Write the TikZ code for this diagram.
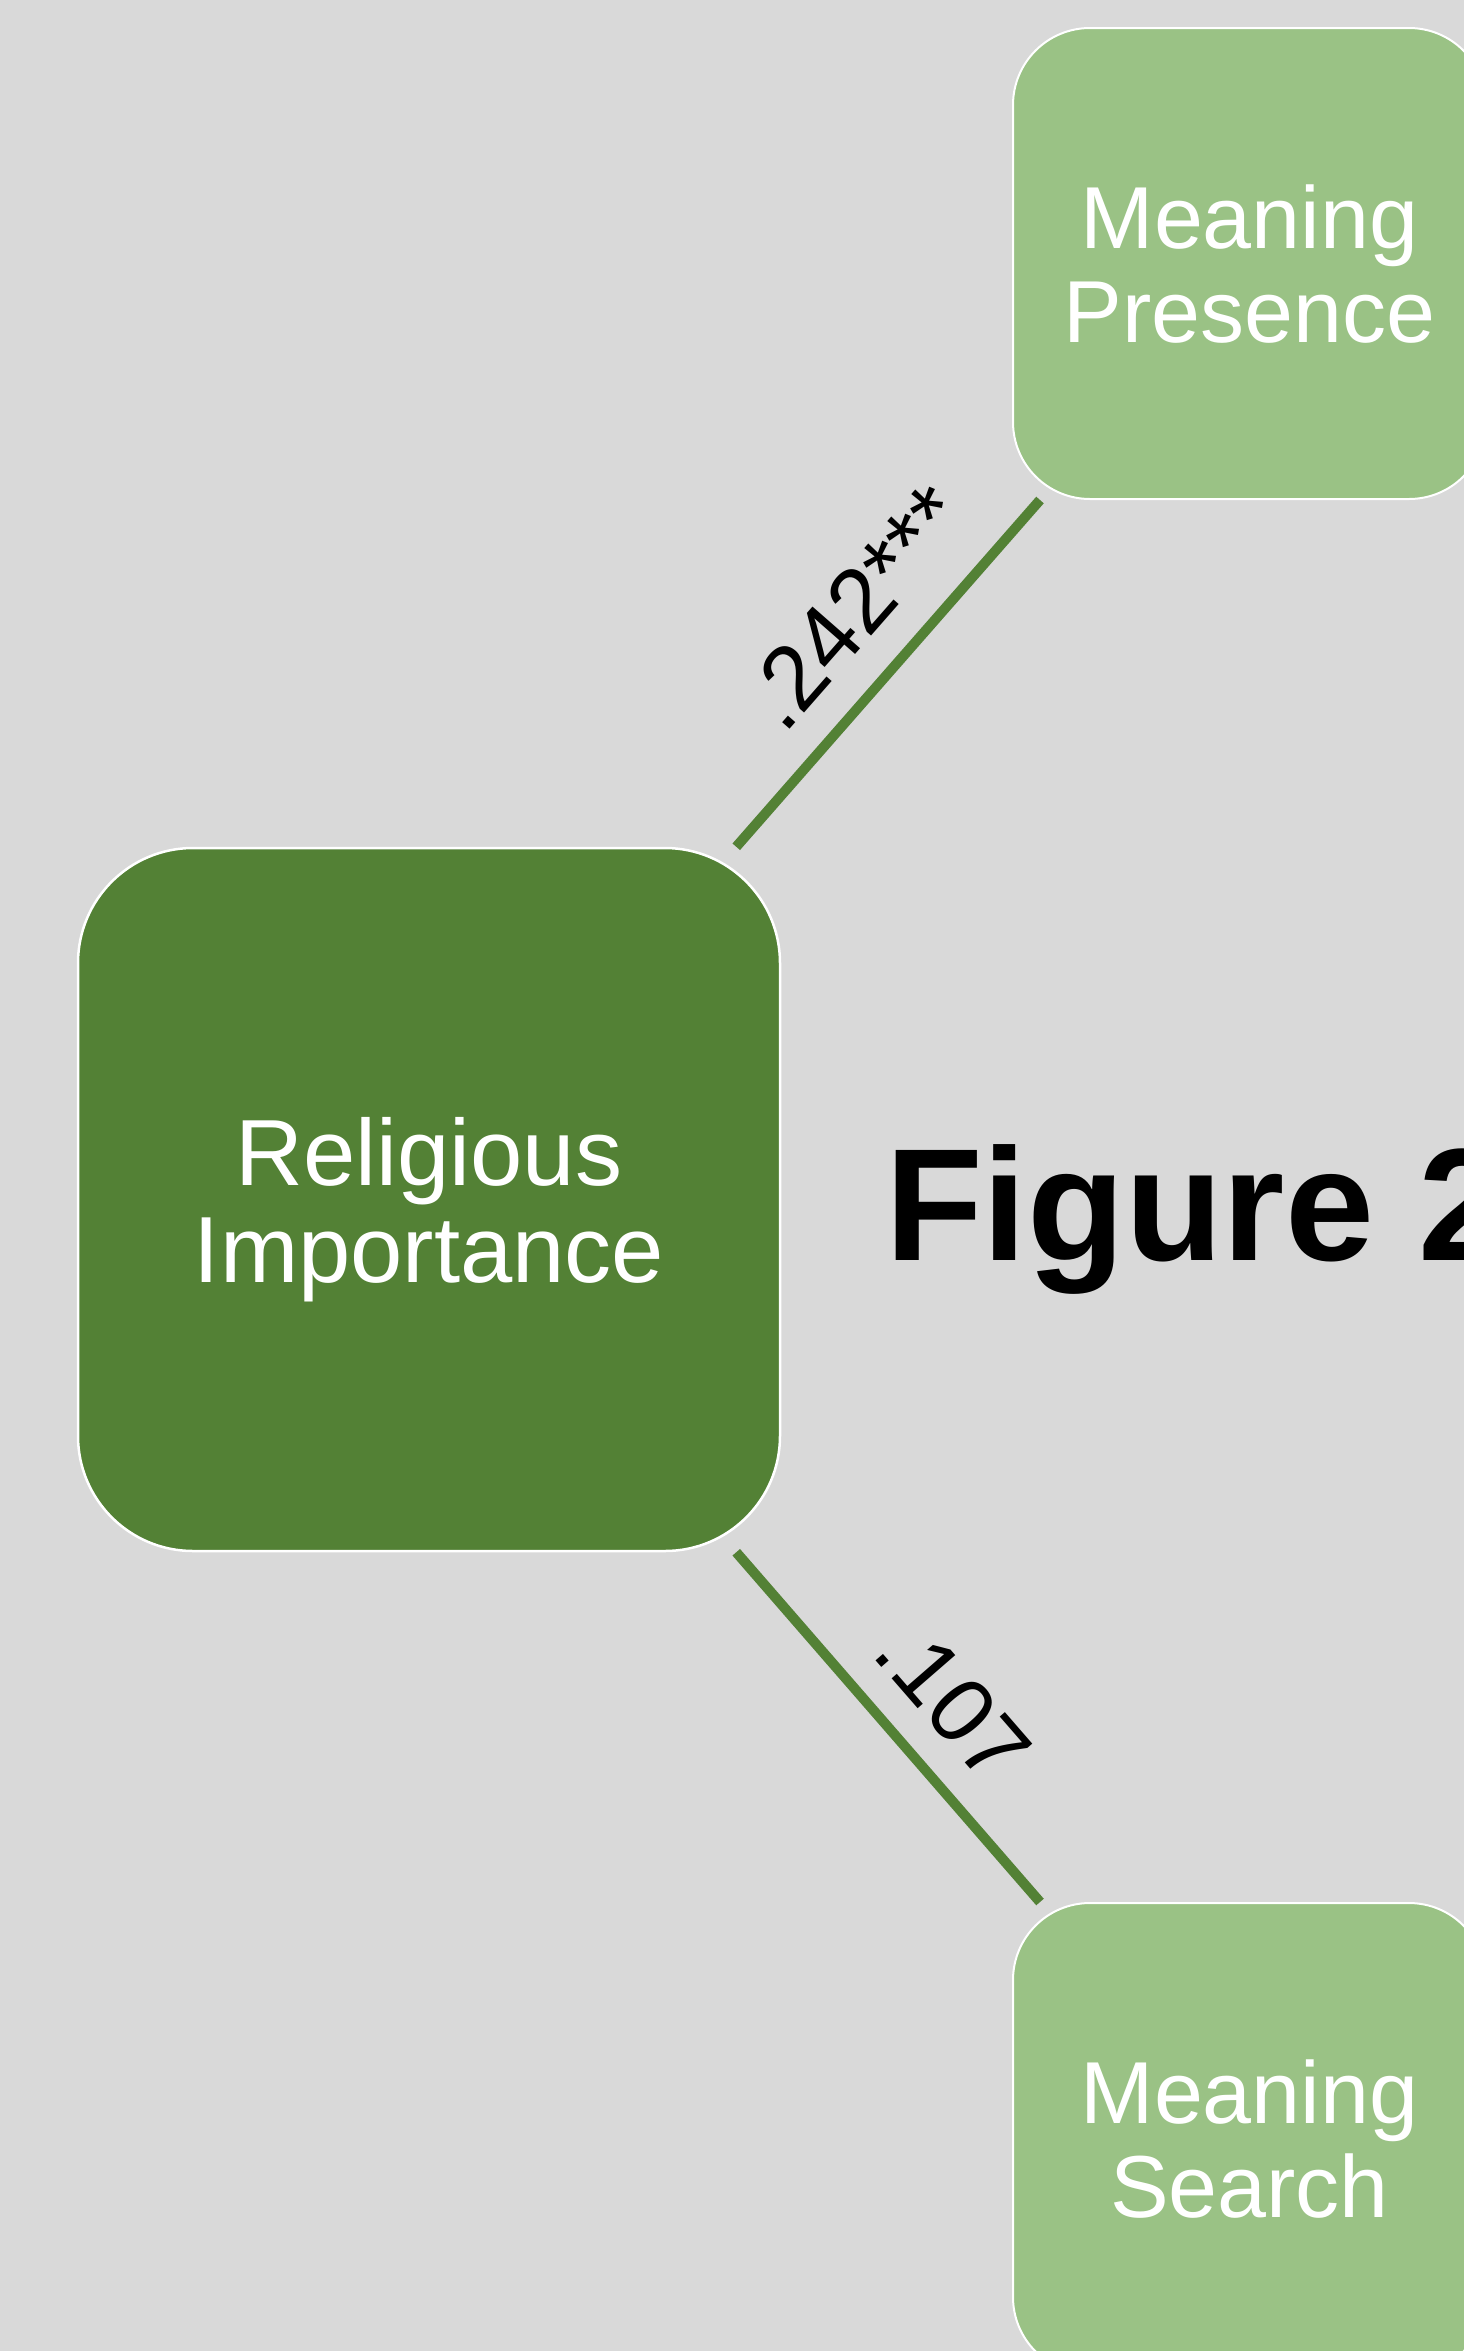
\documentclass[tikz,border=0pt]{standalone}
\usepackage{fontspec}
\setmainfont{Liberation Sans}
\begin{document}
\begin{tikzpicture}[x=1pt,y=-1pt,
  bigbox/.style={rectangle, draw=white, line width=2.5pt, fill=darkgreen,
    minimum width=702pt, minimum height=703pt, rounded corners=115pt,
    text=white, align=center, inner sep=0pt, text depth=0pt,
    font=\fontsize{94}{97}\selectfont},
  smallbox/.style={rectangle, draw=white, line width=2pt, fill=lightgreen,
    minimum width=473pt, minimum height=471pt, rounded corners=77pt,
    text=white, align=center, inner sep=0pt, text depth=0pt,
    font=\fontsize{88}{94}\selectfont},
  conn/.style={draw=darkgreen, line width=10pt, line cap=butt},
  coef/.style={sloped, inner sep=0pt, text=black, font=\fontsize{92}{96}\selectfont},
  titletext/.style={anchor=base west, inner sep=0pt, text=black,
    font=\fontsize{160}{170}\selectfont\bfseries}
]
\definecolor{bggray}{HTML}{D9D9D9}
\definecolor{darkgreen}{HTML}{538135}
\definecolor{lightgreen}{HTML}{9AC285}
\useasboundingbox (0,0) rectangle (1464,2351);
\clip (0,0) rectangle (1464,2351);
\fill[bggray] (0,0) rectangle (1464,2351);

\node[bigbox] (RI) at (429,1199.5) {Religious\\Importance};
\node[smallbox] (MP) at (1249.5,263.5) {Meaning\\Presence};
\node[smallbox] (MS) at (1249.5,2138.5) {Meaning\\Search};

\draw[conn] ([xshift=-45pt]RI.north east) -- node[coef, pos=0.56, above=32pt] {.242***} ([xshift=28pt]MP.south west);
\draw[conn] ([xshift=-45pt]RI.south east) -- node[coef, pos=0.55, above=29pt] {.107} ([xshift=28pt]MS.north west);

\node[titletext] (FIG) at (885,1260) {Figure 2};
\end{tikzpicture}
\end{document}
